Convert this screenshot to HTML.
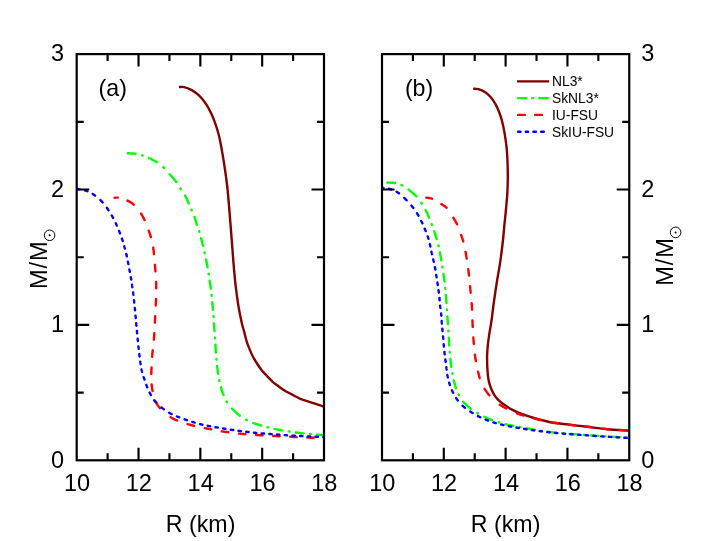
<!DOCTYPE html>
<html><head><meta charset="utf-8"><title>M-R</title>
<style>
html,body{margin:0;padding:0;background:#fff;}
body{width:706px;height:541px;overflow:hidden;}
svg{display:block;will-change:transform;}
text{font-family:"Liberation Sans",sans-serif;fill:#000;}
</style></head><body>
<svg width="706" height="541" viewBox="0 0 706 541">
<rect width="706" height="541" fill="#fff"/>
<defs>
<clipPath id="c1"><rect x="76.70" y="54.10" width="247.30" height="406.20"/></clipPath>
<clipPath id="c2"><rect x="382.00" y="54.10" width="247.25" height="406.20"/></clipPath>
</defs>
<g clip-path="url(#c1)"><path d="M178.96,87.10 C179.83,87.10 182.14,86.63 184.20,87.10 C186.26,87.57 188.93,88.60 191.30,89.90 C193.67,91.20 196.02,92.65 198.40,94.90 C200.78,97.15 203.46,100.32 205.60,103.40 C207.74,106.48 209.60,109.95 211.25,113.40 C212.90,116.85 214.19,120.30 215.50,124.10 C216.81,127.90 218.03,131.82 219.10,136.20 C220.17,140.58 220.94,145.02 221.90,150.40 C222.86,155.78 223.95,162.40 224.85,168.50 C225.75,174.60 226.59,180.60 227.30,187.00 C228.01,193.40 228.53,200.27 229.10,206.90 C229.67,213.53 230.22,220.70 230.70,226.80 C231.18,232.90 231.55,237.63 232.00,243.50 C232.45,249.37 232.87,255.60 233.40,262.00 C233.93,268.40 234.73,277.23 235.20,281.90 C235.67,286.57 235.85,287.23 236.20,290.00 C236.55,292.77 236.90,295.67 237.30,298.50 C237.70,301.33 238.12,304.17 238.60,307.00 C239.08,309.83 239.63,312.67 240.20,315.50 C240.77,318.33 241.38,321.45 242.00,324.00 C242.62,326.55 243.38,328.88 243.90,330.80 C244.42,332.72 244.62,333.67 245.10,335.50 C245.58,337.33 246.09,339.62 246.80,341.80 C247.51,343.98 248.37,346.20 249.35,348.60 C250.33,351.00 251.42,353.72 252.70,356.20 C253.97,358.68 255.43,361.08 257.00,363.50 C258.57,365.92 260.38,368.57 262.10,370.70 C263.82,372.83 265.53,374.45 267.30,376.30 C269.07,378.15 270.88,380.18 272.70,381.80 C274.52,383.42 276.37,384.65 278.20,386.00 C280.03,387.35 281.40,388.48 283.70,389.90 C286.00,391.32 289.23,393.02 292.00,394.50 C294.77,395.98 297.02,397.45 300.30,398.80 C303.58,400.15 307.88,401.33 311.70,402.60 C315.52,403.87 319.98,405.33 323.20,406.40 C326.42,407.47 329.70,408.57 331.00,409.00" fill="none" stroke="#800000" stroke-width="2.40" stroke-linecap="butt"/>
<path d="M127.80,153.27L127.81,153.27L128.94,153.32L130.22,153.38L131.57,153.45L132.93,153.54L134.21,153.64L135.35,153.76L135.60,153.79M142.00,155.38L142.05,155.40L142.13,155.42L142.21,155.45L142.29,155.47L142.37,155.50L142.45,155.52L142.52,155.55L142.60,155.57L142.68,155.60L142.70,155.60M149.10,158.11L149.14,158.13L150.33,158.70L151.59,159.33L152.89,160.00L154.19,160.69L155.45,161.39L156.62,162.08L156.90,162.25M163.30,167.21L163.33,167.23L163.40,167.30L163.47,167.37L163.55,167.44L163.62,167.51L163.69,167.58L163.76,167.65L163.84,167.72L163.91,167.79L163.98,167.86L164.00,167.89M169.62,174.29L169.70,174.39L170.74,175.55L171.84,176.79L172.97,178.06L174.07,179.33L175.12,180.57L176.07,181.72L176.36,182.09M180.38,188.49L180.40,188.52L180.45,188.60L180.50,188.68L180.55,188.75L180.60,188.83L180.65,188.91L180.70,188.98L180.76,189.06L180.81,189.13L180.84,189.19M185.12,195.59L185.14,195.61L185.76,196.84L186.39,198.17L187.01,199.53L187.62,200.89L188.20,202.20L188.73,203.39M191.42,209.79L191.42,209.80L191.45,209.88L191.49,209.95L191.52,210.02L191.55,210.10L191.58,210.18L191.61,210.25L191.65,210.32L191.68,210.40L191.71,210.47L191.72,210.49M194.48,216.89L194.48,216.91L194.85,218.03L195.23,219.24L195.61,220.50L195.99,221.76L196.35,222.99L196.71,224.15L196.87,224.69M199.11,231.09L199.11,231.10L199.14,231.20L199.17,231.30L199.20,231.40L199.23,231.51L199.26,231.61L199.30,231.72L199.31,231.79M201.08,238.19L201.12,238.32L201.46,239.61L201.78,240.87L202.10,242.10L202.40,243.30L202.71,244.49L203.00,245.68L203.08,245.99M204.58,252.39L204.59,252.43L204.62,252.57L204.65,252.70L204.68,252.83L204.71,252.97L204.73,253.09M206.05,259.49L206.05,259.49L206.28,260.69L206.52,261.91L206.75,263.13L206.98,264.36L207.22,265.61L207.45,266.87L207.53,267.29M208.66,273.69L208.67,273.70L208.69,273.83L208.71,273.96L208.73,274.10L208.76,274.23L208.78,274.37L208.78,274.39M209.76,280.79L209.77,280.88L209.93,282.01L210.09,283.15L210.25,284.31L210.41,285.50L210.56,286.73L210.72,288.00L210.80,288.59M211.55,294.99L211.56,295.07L211.57,295.18L211.59,295.29L211.60,295.40L211.61,295.51L211.62,295.61L211.63,295.69M212.30,302.09L212.30,302.10L212.39,303.12L212.49,304.28L212.59,305.54L212.70,306.88L212.81,308.29L212.93,309.73L212.94,309.89M213.44,316.29L213.45,316.42L213.46,316.60L213.47,316.77L213.49,316.93L213.49,316.99M213.95,323.39L213.96,323.47L214.04,324.69L214.13,325.89L214.21,327.07L214.29,328.27L214.37,329.45L214.46,330.59L214.50,331.19M214.95,337.59L214.95,337.61L214.96,337.74L214.97,337.87L214.97,338.00L214.98,338.13L214.99,338.27L214.99,338.29M215.38,344.69L215.38,344.69L215.46,346.01L215.54,347.31L215.62,348.58L215.70,349.80L215.78,350.98L215.87,352.12L215.89,352.49M216.42,358.89L216.43,358.95L216.44,359.07L216.45,359.20L216.46,359.32L216.48,359.45L216.49,359.57L216.49,359.59M217.11,365.99L217.12,366.06L217.25,367.23L217.39,368.41L217.55,369.60L217.71,370.80L217.87,372.01L218.03,373.21L218.11,373.79M219.20,380.19L219.20,380.21L219.23,380.36L219.27,380.50L219.30,380.65L219.33,380.80L219.35,380.89M220.97,387.29L220.98,387.32L221.37,388.68L221.76,390.01L222.17,391.31L222.58,392.55L223.00,393.72L223.40,394.81L223.51,395.09M226.49,401.49L226.53,401.56L226.60,401.67L226.67,401.78L226.75,401.90L226.82,402.01L226.89,402.12L226.94,402.19M232.05,408.59L232.06,408.60L233.30,409.90L234.57,411.17L235.85,412.38L237.13,413.51L238.42,414.58L239.74,415.60L239.77,415.63M246.17,419.78L246.17,419.78L246.32,419.86L246.47,419.94L246.61,420.02L246.76,420.10L246.87,420.16M253.27,423.03L253.42,423.08L254.52,423.47L255.65,423.85L256.80,424.23L257.98,424.60L259.20,424.96L260.45,425.34L261.07,425.52M267.47,427.25L267.49,427.25L267.70,427.30L267.90,427.35L268.11,427.40L268.17,427.42M274.57,428.88L274.75,428.91L275.85,429.14L276.94,429.37L278.04,429.59L279.16,429.80L280.31,430.02L281.47,430.23L282.37,430.39M288.77,431.43L288.88,431.45L289.11,431.49L289.35,431.52L289.47,431.54M295.87,432.47L295.89,432.47L297.13,432.64L298.34,432.80L299.53,432.94L300.69,433.08L301.83,433.21L302.95,433.33L303.67,433.40M310.07,434.02L310.21,434.04L310.39,434.05L310.56,434.07L310.73,434.08L310.77,434.09M317.17,434.63L317.23,434.63L318.69,434.74L320.09,434.84L321.41,434.94L322.63,435.03L323.74,435.12L324.76,435.20L324.97,435.22" fill="none" stroke="#00ff00" stroke-width="2.40" stroke-linecap="round"/>
<path d="M114.60,197.72L114.62,197.72L115.03,197.69L115.46,197.66L115.92,197.64L116.40,197.62L116.89,197.61L117.39,197.62L117.80,197.64M127.40,200.54L127.46,200.57L128.47,201.08L129.46,201.63L130.45,202.21L131.42,202.85L132.38,203.54L133.32,204.30L133.70,204.63M140.95,213.52L141.01,213.62L141.66,214.65L142.28,215.70L142.87,216.75L143.44,217.82L143.99,218.89L144.52,219.98L144.54,220.02M148.74,230.62L148.78,230.72L149.16,231.82L149.53,232.90L149.89,233.96L150.23,235.01L150.56,236.06L150.87,237.10L150.88,237.12M153.23,247.72L153.24,247.81L153.35,248.64L153.46,249.52L153.56,250.46L153.67,251.45L153.78,252.47L153.88,253.51L153.95,254.22M154.92,264.82L154.93,264.92L155.02,265.97L155.11,266.99L155.19,268.00L155.27,268.98L155.35,269.96L155.42,270.91L155.46,271.32M156.08,281.92L156.08,281.94L156.11,283.02L156.15,284.09L156.17,285.14L156.20,286.18L156.22,287.20L156.23,288.18L156.24,288.42M156.06,299.02L156.06,299.08L156.02,300.06L155.97,301.07L155.92,302.09L155.87,303.12L155.82,304.17L155.78,305.23L155.76,305.52M155.20,316.12L155.19,316.30L155.15,317.13L155.10,318.00L155.06,318.92L155.01,319.87L154.96,320.85L154.91,321.87L154.88,322.62M154.31,333.22L154.30,333.35L154.24,334.37L154.17,335.35L154.10,336.30L154.03,337.22L153.95,338.14L153.87,339.03L153.81,339.72M152.68,350.32L152.66,350.45L152.56,351.49L152.47,352.55L152.38,353.61L152.30,354.69L152.22,355.79L152.14,356.82M151.52,367.42L151.51,367.56L151.47,368.57L151.43,369.55L151.40,370.50L151.37,371.43L151.35,372.34L151.33,373.23L151.32,373.92M151.59,384.52L151.59,384.54L151.71,385.77L151.86,386.89L152.02,387.94L152.20,388.96L152.40,389.97L152.62,391.01L152.62,391.02M155.83,401.62L155.86,401.70L156.36,402.79L156.90,403.86L157.48,404.90L158.12,405.90L158.82,406.85L159.62,407.78L159.94,408.12M170.53,417.24L170.59,417.27L171.47,417.80L172.38,418.30L173.36,418.81L174.43,419.32L175.60,419.84L176.92,420.39L177.03,420.44M187.63,424.09L187.64,424.10L188.72,424.41L189.79,424.71L190.84,424.99L191.89,425.26L192.94,425.53L194.00,425.80L194.13,425.83M204.73,428.14L204.76,428.14L205.84,428.35L206.92,428.54L207.99,428.74L209.05,428.93L210.09,429.13L211.10,429.32L211.23,429.35M221.83,431.32L221.92,431.33L222.79,431.47L223.70,431.60L224.63,431.74L225.59,431.88L226.57,432.03L227.56,432.17L228.33,432.28M238.93,433.60L239.08,433.62L240.01,433.71L240.93,433.80L241.86,433.88L242.78,433.96L243.71,434.04L244.64,434.12L245.43,434.18M256.03,434.94L256.19,434.95L257.11,435.01L258.03,435.07L258.95,435.13L259.87,435.19L260.79,435.25L261.71,435.31L262.53,435.36M273.13,435.96L273.21,435.96L274.13,436.01L275.05,436.06L275.98,436.11L276.90,436.16L277.82,436.21L278.75,436.25L279.63,436.30M290.23,436.80L290.32,436.80L291.24,436.85L292.17,436.89L293.10,436.93L294.04,436.97L294.99,437.02L295.95,437.06L296.73,437.09M307.33,437.55L307.36,437.55L308.44,437.60L309.50,437.64L310.51,437.68L311.48,437.72L312.43,437.76L313.35,437.80L313.83,437.82M324.43,438.24L324.54,438.24L325.40,438.28L326.20,438.32L326.94,438.35L327.62,438.39L328.23,438.41L328.79,438.44L328.80,438.44" fill="none" stroke="#ff0000" stroke-width="2.40" stroke-linecap="round"/>
<path d="M71.20,188.46L71.22,188.47L71.30,188.47L71.37,188.47L71.45,188.48L71.53,188.48L71.60,188.48L71.68,188.49L71.76,188.49L71.84,188.49L71.93,188.50L71.99,188.50M77.29,188.98L77.30,188.98L77.61,189.03L77.93,189.07L78.25,189.11L78.57,189.16L78.90,189.20L79.24,189.25L79.58,189.30L79.69,189.32M84.99,190.41L85.07,190.43L85.39,190.53L85.70,190.64L86.02,190.74L86.33,190.85L86.64,190.96L86.94,191.08L87.25,191.20L87.39,191.26M92.69,193.98L92.72,193.99L93.11,194.24L93.50,194.50L93.89,194.77L94.29,195.04L94.69,195.33L95.09,195.62M100.39,200.11L100.41,200.13L100.77,200.48L101.13,200.83L101.47,201.17L101.81,201.52L102.14,201.88L102.47,202.24L102.70,202.49M106.86,207.79L106.89,207.83L107.16,208.21L107.44,208.59L107.71,208.97L107.97,209.36L108.23,209.75L108.49,210.14L108.53,210.19M111.77,215.49L111.81,215.56L112.03,215.96L112.26,216.35L112.48,216.74L112.69,217.13L112.91,217.53L113.11,217.89M115.77,223.19L115.79,223.22L115.97,223.61L116.15,224.00L116.34,224.39L116.52,224.78L116.69,225.18L116.87,225.57L116.88,225.59M119.10,230.89L119.12,230.93L119.27,231.32L119.42,231.71L119.58,232.09L119.73,232.48L119.88,232.87L120.03,233.26L120.04,233.29M121.93,238.59L121.94,238.62L122.07,239.01L122.20,239.41L122.33,239.80L122.46,240.19L122.58,240.58L122.70,240.96L122.71,240.99M124.24,246.29L124.25,246.33L124.34,246.64L124.43,246.96L124.51,247.28L124.60,247.60L124.69,247.93L124.78,248.25L124.86,248.58L124.90,248.69M126.28,253.99L126.29,254.03L126.38,254.41L126.48,254.79L126.57,255.18L126.66,255.58L126.75,255.98L126.84,256.39M127.93,261.69L127.95,261.79L128.02,262.14L128.09,262.49L128.16,262.84L128.22,263.20L128.29,263.55L128.36,263.91L128.39,264.09M129.38,269.39L129.39,269.48L129.45,269.81L129.51,270.13L129.57,270.44L129.63,270.76L129.69,271.06L129.74,271.37L129.80,271.67L129.82,271.79M130.78,277.09L130.80,277.21L130.85,277.49L130.90,277.77L130.95,278.04L130.99,278.32L131.04,278.59L131.09,278.87L131.14,279.15L131.18,279.43L131.19,279.49M132.03,284.79L132.03,284.83L132.08,285.13L132.12,285.43L132.17,285.73L132.21,286.03L132.26,286.33L132.30,286.64L132.34,286.94L132.38,287.19M133.10,292.49L133.11,292.58L133.15,292.89L133.19,293.19L133.22,293.49L133.26,293.80L133.30,294.10L133.34,294.40L133.37,294.71L133.40,294.89M133.99,300.19L133.99,300.20L134.02,300.50L134.05,300.81L134.08,301.11L134.11,301.42L134.14,301.72L134.18,302.02L134.21,302.33L134.23,302.59M134.77,307.89L134.78,307.95L134.81,308.24L134.84,308.53L134.86,308.82L134.89,309.10L134.92,309.39L134.95,309.68L134.98,309.97L135.01,310.25L135.01,310.29M135.52,315.59L135.52,315.59L135.56,316.00L135.60,316.41L135.64,316.82L135.67,317.23L135.71,317.63L135.75,317.99M136.20,323.29L136.21,323.40L136.25,323.77L136.28,324.15L136.31,324.53L136.34,324.92L136.38,325.30L136.41,325.69L136.41,325.69M136.90,330.99L136.90,331.00L136.93,331.28L136.95,331.57L136.98,331.85L137.01,332.14L137.03,332.42L137.06,332.71L137.09,333.00L137.12,333.29L137.13,333.39M137.65,338.69L137.66,338.77L137.69,339.06L137.71,339.34L137.74,339.63L137.77,339.91L137.80,340.20L137.83,340.48L137.86,340.77L137.89,341.05L137.89,341.09M138.44,346.39L138.45,346.47L138.48,346.76L138.51,347.04L138.54,347.33L138.57,347.61L138.60,347.90L138.63,348.18L138.66,348.47L138.69,348.75L138.70,348.79M139.29,354.09L139.30,354.14L139.33,354.42L139.36,354.70L139.40,354.98L139.43,355.26L139.46,355.55L139.49,355.83L139.53,356.11L139.56,356.39L139.57,356.49M140.28,361.79L140.30,361.90L140.34,362.19L140.39,362.47L140.43,362.76L140.48,363.05L140.53,363.35L140.57,363.64L140.62,363.94L140.66,364.19M141.58,369.49L141.61,369.62L141.66,369.90L141.72,370.19L141.77,370.47L141.83,370.74L141.89,371.02L141.94,371.29L142.00,371.55L142.06,371.82L142.07,371.89M143.64,377.19L143.64,377.19L143.76,377.52L143.89,377.84L144.02,378.17L144.15,378.50L144.28,378.83L144.41,379.16L144.54,379.50L144.57,379.59M146.36,384.89L146.37,384.92L146.51,385.33L146.65,385.73L146.79,386.14L146.94,386.54L147.08,386.94L147.21,387.29M149.63,392.59L149.63,392.59L149.82,392.94L150.00,393.29L150.19,393.64L150.38,393.98L150.57,394.32L150.76,394.67L150.95,394.99M154.22,400.29L154.25,400.34L154.55,400.73L154.86,401.13L155.19,401.52L155.53,401.92L155.89,402.32L156.23,402.69M161.51,407.47L161.53,407.49L161.92,407.80L162.31,408.10L162.70,408.40L163.09,408.70L163.49,408.99L163.88,409.29L163.91,409.31M169.21,412.80L169.27,412.83L169.61,413.03L169.94,413.22L170.28,413.41L170.62,413.59L170.97,413.78L171.32,413.96L171.61,414.11M176.91,416.45L177.01,416.49L177.39,416.64L177.78,416.79L178.16,416.94L178.54,417.09L178.93,417.23L179.31,417.38L179.31,417.38M184.61,419.35L184.67,419.37L185.04,419.50L185.41,419.63L185.78,419.75L186.15,419.88L186.52,420.01L186.89,420.13L187.01,420.17M192.31,421.88L192.35,421.89L192.72,422.01L193.10,422.13L193.47,422.24L193.85,422.36L194.22,422.47L194.60,422.59L194.71,422.62M200.01,424.13L200.10,424.15L200.48,424.24L200.85,424.34L201.22,424.43L201.60,424.52L201.98,424.61L202.36,424.70L202.41,424.71M207.71,425.79L207.72,425.79L208.09,425.86L208.45,425.93L208.82,425.99L209.18,426.06L209.53,426.12L209.88,426.19L210.11,426.23M215.41,427.20L215.42,427.20L215.71,427.25L216.01,427.30L216.33,427.35L216.68,427.41L217.05,427.47L217.45,427.53L217.81,427.59M223.11,428.45L223.24,428.47L223.47,428.51L223.70,428.55L223.93,428.59L224.16,428.62L224.40,428.66L224.63,428.70L224.87,428.74L225.11,428.78L225.35,428.82L225.51,428.84M230.81,429.69L230.85,429.69L231.10,429.73L231.36,429.77L231.61,429.81L231.86,429.85L232.12,429.89L232.37,429.93L232.62,429.96L232.87,430.00L233.12,430.04L233.21,430.05M238.51,430.81L238.62,430.82L238.85,430.85L239.08,430.88L239.31,430.91L239.54,430.94L239.78,430.97L240.01,431.01L240.24,431.04L240.47,431.07L240.70,431.10L240.91,431.12M246.21,431.78L246.26,431.79L246.49,431.81L246.72,431.84L246.95,431.87L247.18,431.90L247.41,431.92L247.64,431.95L247.88,431.98L248.11,432.00L248.34,432.03L248.57,432.06L248.61,432.06M253.91,432.64L254.12,432.66L254.35,432.68L254.58,432.71L254.81,432.73L255.04,432.75L255.27,432.78L255.50,432.80L255.73,432.82L255.96,432.85L256.19,432.87L256.31,432.88M261.61,433.36L261.71,433.37L261.94,433.38L262.17,433.40L262.40,433.42L262.63,433.44L262.86,433.46L263.09,433.48L263.32,433.50L263.55,433.52L263.78,433.53L264.01,433.55L264.01,433.55M269.31,433.96L269.53,433.97L269.76,433.99L269.99,434.01L270.22,434.02L270.45,434.04L270.68,434.06L270.91,434.08L271.14,434.09L271.37,434.11L271.60,434.13L271.71,434.14M277.01,434.54L277.13,434.54L277.36,434.56L277.59,434.58L277.82,434.60L278.06,434.61L278.29,434.63L278.52,434.65L278.75,434.67L278.98,434.68L279.21,434.70L279.41,434.72M284.71,435.10L284.76,435.10L285.00,435.12L285.23,435.13L285.46,435.15L285.69,435.17L285.92,435.18L286.15,435.20L286.38,435.21L286.62,435.23L286.85,435.25L287.08,435.26L287.11,435.26M292.41,435.60L292.63,435.61L292.86,435.63L293.10,435.64L293.33,435.65L293.57,435.67L293.80,435.68L294.04,435.69L294.28,435.71L294.51,435.72L294.75,435.73L294.81,435.74M300.11,436.00L300.33,436.01L300.57,436.03L300.81,436.04L301.05,436.05L301.30,436.06L301.54,436.07L301.78,436.08L302.02,436.09L302.26,436.10L302.50,436.12L302.51,436.12M307.81,436.36L308.01,436.37L308.23,436.38L308.44,436.39L308.66,436.39L308.87,436.40L309.08,436.41L309.29,436.42L309.50,436.43L309.70,436.44L309.91,436.45L310.11,436.46L310.21,436.47M315.51,436.72L315.65,436.73L315.99,436.74L316.33,436.76L316.66,436.78L316.99,436.79L317.31,436.81L317.63,436.82L317.91,436.84M323.21,437.09L323.26,437.09L323.62,437.11L323.97,437.12L324.31,437.14L324.65,437.15L324.98,437.17L325.29,437.18L325.60,437.20L325.61,437.20M329.71,437.39L329.74,437.39L329.78,437.39L329.83,437.39L329.87,437.39L329.92,437.40L329.96,437.40L330.00,437.40L330.00,437.40" fill="none" stroke="#0000ff" stroke-width="2.40" stroke-linecap="round"/></g>
<g clip-path="url(#c2)"><path d="M473.20,88.80 C474.08,88.87 476.55,88.65 478.50,89.20 C480.45,89.75 482.88,90.79 484.90,92.10 C486.92,93.41 488.83,95.03 490.60,97.05 C492.37,99.07 494.08,101.71 495.50,104.20 C496.92,106.69 498.03,109.28 499.10,112.00 C500.17,114.72 501.07,117.42 501.90,120.50 C502.73,123.58 503.43,126.94 504.10,130.50 C504.77,134.06 505.43,138.43 505.90,141.85 C506.37,145.27 506.62,147.28 506.90,151.00 C507.18,154.72 507.45,159.62 507.60,164.20 C507.75,168.77 507.84,173.70 507.80,178.45 C507.76,183.20 507.62,187.96 507.35,192.70 C507.08,197.44 506.57,202.63 506.20,206.90 C505.82,211.17 505.43,214.98 505.10,218.30 C504.77,221.62 504.55,223.18 504.20,226.80 C503.85,230.42 503.65,234.25 503.00,240.00 C502.35,245.75 501.34,254.18 500.30,261.30 C499.26,268.42 497.87,275.58 496.75,282.70 C495.63,289.82 494.49,297.55 493.60,304.00 C492.71,310.45 492.08,316.61 491.40,321.40 C490.72,326.19 490.07,328.97 489.50,332.75 C488.93,336.53 488.35,340.31 487.95,344.10 C487.55,347.89 487.21,351.70 487.10,355.50 C486.99,359.30 487.17,363.65 487.30,366.90 C487.43,370.15 487.62,372.47 487.90,375.00 C488.18,377.53 488.41,379.73 489.00,382.10 C489.59,384.47 490.50,386.95 491.45,389.20 C492.40,391.45 493.44,393.70 494.70,395.60 C495.96,397.50 497.22,398.93 499.00,400.60 C500.78,402.27 503.15,404.06 505.40,405.60 C507.65,407.14 509.90,408.50 512.50,409.85 C515.10,411.20 517.43,412.34 521.00,413.70 C524.57,415.06 528.98,416.58 533.90,418.00 C538.82,419.42 544.67,421.10 550.50,422.20 C556.33,423.30 562.76,423.83 568.90,424.60 C575.04,425.37 580.90,426.03 587.35,426.80 C593.80,427.57 600.84,428.58 607.60,429.20 C614.36,429.82 623.17,430.20 627.90,430.50 C632.63,430.80 634.65,430.92 636.00,431.00" fill="none" stroke="#800000" stroke-width="2.40" stroke-linecap="butt"/>
<path d="M387.30,182.57L387.34,182.57L388.47,182.61L389.72,182.66L391.03,182.72L392.34,182.79L393.60,182.88L394.74,182.99L395.10,183.03M401.50,185.00L401.53,185.01L401.60,185.05L401.68,185.08L401.75,185.12L401.83,185.16L401.90,185.20L401.98,185.23L402.05,185.27L402.13,185.31L402.20,185.35M408.60,189.60L408.69,189.67L409.99,190.72L411.37,191.86L412.76,193.05L414.10,194.24L415.34,195.40L416.39,196.45M421.30,202.85L421.32,202.87L421.37,202.95L421.43,203.04L421.49,203.12L421.55,203.21L421.60,203.29L421.66,203.38L421.72,203.46L421.77,203.55M425.58,209.95L425.60,209.99L426.22,211.24L426.83,212.52L427.41,213.82L427.97,215.12L428.52,216.41L429.05,217.65L429.09,217.75M431.65,224.15L431.65,224.15L431.69,224.24L431.72,224.34L431.76,224.43L431.79,224.52L431.83,224.61L431.86,224.71L431.90,224.80L431.92,224.85M434.24,231.25L434.25,231.27L434.70,232.60L435.13,233.89L435.53,235.16L435.92,236.41L436.30,237.64L436.65,238.85L436.71,239.05M438.45,245.45L438.46,245.50L438.49,245.59L438.51,245.69L438.53,245.79L438.55,245.89L438.58,246.00L438.60,246.10L438.61,246.15M439.89,252.55L439.90,252.62L440.13,253.85L440.36,255.07L440.58,256.27L440.79,257.44L441.00,258.62L441.20,259.79L441.30,260.35M442.36,266.75L442.38,266.86L442.40,267.00L442.42,267.14L442.44,267.28L442.47,267.41L442.47,267.45M443.45,273.85L443.45,273.85L443.64,275.15L443.83,276.44L444.00,277.71L444.17,278.95L444.34,280.18L444.50,281.40L444.53,281.65M445.29,288.05L445.30,288.17L445.32,288.30L445.33,288.44L445.35,288.57L445.36,288.70L445.36,288.75M445.92,295.15L445.92,295.19L446.02,296.52L446.11,297.84L446.21,299.17L446.31,300.49L446.40,301.76L446.49,302.95M446.93,309.35L446.94,309.45L446.95,309.61L446.96,309.76L446.97,309.92L446.98,310.05M447.40,316.45L447.41,316.59L447.49,317.77L447.57,318.97L447.65,320.17L447.73,321.36L447.80,322.55L447.88,323.71L447.91,324.25M448.32,330.65L448.32,330.68L448.33,330.85L448.34,331.03L448.35,331.21L448.36,331.35M448.76,337.75L448.76,337.77L448.84,339.01L448.92,340.26L449.01,341.51L449.09,342.77L449.17,344.03L449.25,345.29L449.27,345.55M449.72,351.95L449.73,352.05L449.74,352.22L449.76,352.39L449.77,352.57L449.78,352.65M450.37,359.05L450.38,359.13L450.52,360.44L450.66,361.73L450.81,363.00L450.96,364.24L451.11,365.44L451.26,366.61L451.29,366.85M452.32,373.25L452.32,373.26L452.34,373.38L452.36,373.50L452.39,373.62L452.41,373.75L452.43,373.87L452.44,373.95M453.74,380.35L453.75,380.39L453.98,381.26L454.26,382.33L454.60,383.58L454.96,384.93L455.36,386.32L455.79,387.70L455.93,388.15M458.64,394.55L458.65,394.57L458.69,394.65L458.73,394.73L458.77,394.80L458.81,394.88L458.85,394.96L458.90,395.04L458.94,395.12L458.98,395.20L459.01,395.25M463.09,401.65L463.11,401.66L464.13,402.78L465.31,403.97L466.62,405.19L467.99,406.41L469.36,407.57L470.67,408.65L470.78,408.73M477.18,413.00L477.26,413.05L477.35,413.10L477.45,413.16L477.54,413.21L477.63,413.26L477.73,413.32L477.82,413.37L477.88,413.40M484.28,416.80L484.31,416.82L485.53,417.39L486.78,417.95L488.07,418.50L489.41,419.04L490.78,419.57L492.08,420.05M498.48,422.22L498.48,422.22L498.61,422.26L498.74,422.30L498.86,422.34L498.99,422.37L499.12,422.41L499.18,422.43M505.58,424.20L505.63,424.21L507.03,424.56L508.30,424.85L509.46,425.10L510.59,425.33L511.75,425.54L513.02,425.78L513.38,425.84M519.78,427.04L519.94,427.07L520.11,427.10L520.29,427.13L520.46,427.17L520.48,427.17M526.88,428.33L527.05,428.36L528.22,428.56L529.40,428.77L530.59,428.97L531.81,429.18L533.04,429.40L534.30,429.62L534.68,429.68M541.08,430.76L541.24,430.78L541.46,430.82L541.68,430.85L541.78,430.87M548.18,431.78L548.37,431.80L549.50,431.94L550.64,432.07L551.78,432.20L552.93,432.33L554.09,432.45L555.25,432.57L555.98,432.64M562.38,433.24L562.47,433.25L562.70,433.27L562.94,433.29L563.08,433.31M569.48,433.86L569.63,433.87L570.79,433.96L571.94,434.05L573.09,434.14L574.25,434.22L575.40,434.30L576.55,434.39L577.28,434.44M583.68,434.90L583.70,434.90L583.93,434.92L584.16,434.93L584.38,434.95M590.78,435.42L590.92,435.43L592.00,435.51L593.10,435.59L594.21,435.67L595.34,435.75L596.51,435.83L597.70,435.91L598.58,435.97M604.98,436.38L605.09,436.39L605.41,436.40L605.68,436.42M612.08,436.80L612.37,436.82L613.46,436.88L614.56,436.94L615.64,437.01L616.72,437.07L617.79,437.13L618.85,437.19L619.88,437.25M626.28,437.61L626.51,437.62L626.76,437.64L626.98,437.65M633.38,437.99L633.39,437.99L633.65,438.00L633.89,438.01L634.12,438.02L634.33,438.03L634.53,438.04L634.72,438.04L634.80,438.05" fill="none" stroke="#00ff00" stroke-width="2.40" stroke-linecap="round"/>
<path d="M426.30,197.61L426.34,197.62L427.13,197.71L428.01,197.82L428.95,197.96L429.93,198.14L430.92,198.36L431.88,198.64L432.10,198.71M441.40,204.10L441.47,204.14L442.35,204.70L443.20,205.22L444.00,205.74L444.78,206.27L445.55,206.84L446.30,207.48L446.58,207.74M453.30,217.81L453.33,217.86L453.96,218.91L454.58,219.93L455.18,220.93L455.77,221.93L456.33,222.92L456.88,223.93L457.08,224.31M461.12,234.91L461.16,235.01L461.52,236.06L461.87,237.04L462.19,237.99L462.51,238.96L462.83,240.00L463.16,241.17L463.22,241.41M465.55,252.01L465.57,252.10L465.74,253.00L465.90,253.92L466.07,254.85L466.23,255.79L466.40,256.75L466.56,257.75L466.69,258.51M468.24,269.11L468.25,269.22L468.40,270.32L468.54,271.41L468.67,272.49L468.80,273.55L468.93,274.62L469.04,275.61M470.07,286.21L470.09,286.38L470.18,287.45L470.28,288.52L470.38,289.59L470.48,290.65L470.58,291.72L470.68,292.71M471.64,303.31L471.65,303.47L471.74,304.54L471.81,305.61L471.89,306.69L471.95,307.76L472.01,308.85L472.06,309.81M472.44,320.41L472.45,320.63L472.49,321.69L472.53,322.74L472.58,323.79L472.63,324.82L472.68,325.83L472.73,326.83L472.73,326.91M473.32,337.51L473.33,337.69L473.41,338.68L473.48,339.70L473.57,340.72L473.65,341.76L473.73,342.81L473.82,343.88L473.83,344.01M474.89,354.61L474.89,354.62L475.03,355.66L475.17,356.70L475.32,357.72L475.49,358.75L475.66,359.79L475.84,360.84L475.89,361.11M478.10,371.71L478.11,371.77L478.37,372.92L478.63,374.01L478.88,375.05L479.13,376.05L479.37,376.99L479.61,377.90L479.70,378.21M484.55,388.81L484.56,388.83L485.29,389.95L486.04,391.06L486.81,392.14L487.61,393.19L488.43,394.23L489.29,395.23L489.36,395.31M499.86,404.71L499.93,404.76L500.89,405.41L501.85,406.02L502.84,406.62L503.87,407.21L504.98,407.81L506.20,408.45L506.36,408.53M516.96,413.37L517.01,413.39L518.05,413.79L519.06,414.16L520.09,414.52L521.16,414.87L522.30,415.23L523.46,415.58M534.06,418.34L534.07,418.34L534.95,418.56L535.87,418.79L536.81,419.03L537.79,419.28L538.79,419.54L539.82,419.80L540.56,419.99M551.16,422.32L551.16,422.32L552.04,422.47L552.94,422.61L553.84,422.75L554.74,422.88L555.66,423.01L556.57,423.13L557.50,423.25L557.66,423.27M568.26,424.52L568.44,424.54L569.36,424.66L570.28,424.77L571.19,424.88L572.10,424.99L573.01,425.10L573.92,425.21L574.76,425.31M585.36,426.56L585.43,426.57L586.39,426.69L587.35,426.80L588.32,426.92L589.30,427.04L590.29,427.16L591.28,427.28L591.86,427.36M602.46,428.67L602.49,428.67L603.52,428.79L604.54,428.90L605.56,429.00L606.58,429.10L607.60,429.20L608.63,429.29L608.96,429.32M619.56,430.03L619.59,430.03L620.66,430.09L621.70,430.15L622.71,430.20L623.68,430.26L624.62,430.31L625.52,430.36L626.06,430.39M635.58,430.97L635.63,430.98L635.68,430.98L635.74,430.98L635.79,430.99L635.85,430.99L635.88,430.99" fill="none" stroke="#ff0000" stroke-width="2.40" stroke-linecap="round"/>
<path d="M375.88,187.35L375.94,187.35L376.02,187.36L376.09,187.36L376.17,187.36L376.19,187.37M381.17,187.70L381.20,187.70L381.60,187.74L382.00,187.79L382.40,187.84L382.80,187.88L383.21,187.93L383.57,187.97M388.87,188.76L388.96,188.78L389.28,188.85L389.59,188.93L389.90,189.01L390.20,189.09L390.50,189.17L390.80,189.26L391.08,189.35L391.27,189.41M396.57,191.73L396.61,191.75L396.97,191.97L397.34,192.20L397.71,192.44L398.08,192.69L398.46,192.96L398.85,193.24L398.97,193.33M404.27,197.92L404.29,197.94L404.67,198.30L405.05,198.66L405.42,199.02L405.78,199.38L406.14,199.74L406.50,200.10L406.66,200.27M411.38,205.57L411.45,205.65L411.76,206.03L412.07,206.41L412.38,206.80L412.68,207.18L412.97,207.56L413.26,207.94L413.29,207.97M416.99,213.27L417.03,213.33L417.28,213.72L417.52,214.11L417.76,214.50L418.00,214.89L418.23,215.28L418.46,215.67M421.25,220.97L421.26,221.00L421.46,221.40L421.66,221.80L421.85,222.20L422.05,222.60L422.24,223.01L422.41,223.37M424.75,228.67L424.76,228.68L424.93,229.09L425.09,229.49L425.26,229.90L425.42,230.30L425.58,230.70L425.72,231.07M427.68,236.37L427.71,236.46L427.84,236.84L427.96,237.23L428.09,237.62L428.21,238.01L428.33,238.40L428.44,238.77M429.82,244.07L429.84,244.13L429.93,244.52L430.02,244.91L430.12,245.31L430.21,245.70L430.30,246.10L430.38,246.47M431.48,251.77L431.50,251.84L431.57,252.16L431.63,252.50L431.71,252.84L431.78,253.20L431.86,253.56L431.94,253.94L431.99,254.17M433.23,259.47L433.23,259.47L433.31,259.81L433.39,260.14L433.46,260.47L433.54,260.81L433.62,261.15L433.70,261.49L433.78,261.82L433.79,261.87M434.93,267.17L434.96,267.32L435.02,267.64L435.08,267.96L435.14,268.28L435.20,268.60L435.26,268.92L435.32,269.24L435.38,269.56L435.38,269.57M436.25,274.87L436.27,275.00L436.32,275.32L436.36,275.64L436.41,275.96L436.46,276.28L436.51,276.60L436.56,276.92L436.61,277.24L436.61,277.27M437.43,282.57L437.44,282.68L437.49,283.00L437.54,283.32L437.59,283.64L437.64,283.96L437.69,284.28L437.74,284.60L437.79,284.92L437.79,284.97M438.55,290.27L438.57,290.36L438.61,290.68L438.65,291.00L438.69,291.32L438.73,291.64L438.77,291.96L438.81,292.28L438.85,292.60L438.86,292.67M439.41,297.97L439.41,297.98L439.44,298.32L439.47,298.66L439.50,299.00L439.53,299.34L439.56,299.67L439.59,300.01L439.62,300.34L439.62,300.37M440.13,305.67L440.14,305.77L440.19,306.23L440.25,306.65L440.30,307.04L440.35,307.41L440.39,307.76L440.44,308.07M441.10,313.37L441.11,313.45L441.14,313.72L441.16,314.00L441.18,314.28L441.21,314.57L441.23,314.87L441.26,315.16L441.28,315.47L441.30,315.77M441.70,321.07L441.70,321.07L441.72,321.42L441.75,321.76L441.78,322.10L441.80,322.44L441.83,322.78L441.85,323.12L441.88,323.46L441.88,323.47M442.32,328.77L442.32,328.78L442.35,329.09L442.38,329.41L442.41,329.72L442.44,330.04L442.46,330.35L442.49,330.67L442.52,330.99L442.54,331.17M443.02,336.47L443.03,336.61L443.06,336.94L443.09,337.27L443.12,337.61L443.15,337.94L443.18,338.28L443.22,338.62L443.24,338.87M443.69,344.17L443.70,344.23L443.73,344.59L443.76,344.95L443.79,345.31L443.83,345.67L443.86,346.03L443.89,346.39L443.90,346.57M444.41,351.87L444.42,351.99L444.46,352.34L444.50,352.70L444.54,353.06L444.58,353.42L444.62,353.78L444.66,354.15L444.68,354.27M445.33,359.57L445.33,359.58L445.38,359.95L445.43,360.33L445.48,360.70L445.53,361.06L445.58,361.43L445.62,361.79L445.65,361.97M446.35,367.27L446.35,367.32L446.41,367.73L446.45,368.13L446.50,368.51L446.54,368.88L446.59,369.24L446.63,369.58L446.64,369.67M447.36,374.97L447.37,375.04L447.43,375.36L447.50,375.70L447.57,376.04L447.64,376.38L447.71,376.73L447.78,377.08L447.85,377.37M449.17,382.67L449.19,382.72L449.29,383.07L449.39,383.41L449.50,383.76L449.61,384.10L449.71,384.44L449.83,384.78L449.92,385.07M451.98,390.37L452.00,390.40L452.14,390.71L452.28,391.03L452.43,391.34L452.58,391.65L452.72,391.96L452.88,392.27L453.03,392.58L453.12,392.77M456.14,398.07L456.17,398.12L456.43,398.51L456.69,398.89L456.95,399.28L457.21,399.65L457.48,400.03L457.75,400.40L457.80,400.47M462.58,405.72L462.61,405.74L462.95,406.05L463.28,406.36L463.63,406.66L463.97,406.96L464.32,407.26L464.67,407.55L464.98,407.81M470.28,411.59L470.35,411.64L470.66,411.83L470.96,412.02L471.27,412.22L471.58,412.41L471.88,412.60L472.19,412.79L472.50,412.97L472.68,413.09M477.98,416.11L478.09,416.17L478.41,416.33L478.74,416.50L479.06,416.67L479.39,416.83L479.73,417.00L480.06,417.16L480.38,417.31M485.68,419.64L485.73,419.66L486.11,419.81L486.50,419.96L486.88,420.12L487.26,420.26L487.65,420.41L488.03,420.56L488.08,420.58M493.38,422.41L493.40,422.42L493.77,422.53L494.13,422.64L494.49,422.75L494.85,422.86L495.22,422.96L495.58,423.06L495.78,423.12M501.08,424.50L501.10,424.50L501.50,424.60L501.91,424.69L502.32,424.79L502.74,424.89L503.16,424.99L503.48,425.06M508.78,426.18L508.85,426.19L509.14,426.25L509.43,426.31L509.71,426.37L510.00,426.42L510.29,426.48L510.57,426.53L510.85,426.59L511.13,426.64L511.18,426.65M516.48,427.57L516.53,427.58L516.93,427.64L517.32,427.70L517.71,427.76L518.10,427.82L518.48,427.88L518.86,427.93L518.88,427.94M524.18,428.83L524.23,428.84L524.51,428.90L524.78,428.97L525.07,429.03L525.39,429.10L525.77,429.18L526.22,429.26L526.58,429.32M531.88,430.09L531.91,430.09L532.12,430.12L532.34,430.15L532.56,430.18L532.78,430.21L533.00,430.24L533.23,430.27L533.45,430.31L533.68,430.34L533.91,430.37L534.15,430.40L534.28,430.42M539.58,431.12L539.60,431.12L539.86,431.15L540.11,431.19L540.37,431.22L540.63,431.25L540.88,431.28L541.14,431.32L541.39,431.35L541.65,431.38L541.90,431.41L541.98,431.42M547.28,432.05L547.49,432.08L547.72,432.10L547.95,432.13L548.18,432.16L548.41,432.18L548.64,432.21L548.87,432.23L549.10,432.26L549.33,432.28L549.56,432.31L549.68,432.32M554.98,432.87L555.10,432.88L555.33,432.90L555.56,432.92L555.79,432.95L556.02,432.97L556.25,432.99L556.48,433.01L556.71,433.04L556.94,433.06L557.18,433.08L557.38,433.10M562.68,433.58L562.71,433.58L562.94,433.60L563.17,433.62L563.40,433.64L563.64,433.66L563.87,433.68L564.10,433.70L564.33,433.72L564.56,433.74L564.79,433.76L565.02,433.78L565.08,433.79M570.38,434.20L570.56,434.21L570.79,434.23L571.02,434.24L571.25,434.26L571.48,434.28L571.71,434.29L571.94,434.31L572.17,434.32L572.40,434.34L572.63,434.36L572.78,434.37M578.08,434.72L578.17,434.73L578.40,434.74L578.63,434.76L578.86,434.77L579.09,434.79L579.32,434.80L579.55,434.82L579.78,434.83L580.01,434.85L580.24,434.86L580.47,434.88L580.48,434.88M585.78,435.25L585.95,435.26L586.17,435.28L586.39,435.29L586.61,435.31L586.83,435.32L587.05,435.34L587.26,435.36L587.48,435.37L587.70,435.39L587.91,435.40L588.13,435.42L588.18,435.42M593.48,435.81L593.54,435.82L593.76,435.83L593.99,435.85L594.21,435.87L594.43,435.88L594.66,435.90L594.89,435.91L595.11,435.93L595.34,435.95L595.57,435.96L595.81,435.98L595.88,435.98M601.18,436.34L601.28,436.35L601.55,436.37L601.82,436.38L602.10,436.40L602.38,436.42L602.66,436.44L602.95,436.45L603.24,436.47L603.54,436.49L603.58,436.49M608.88,436.81L609.15,436.83L609.50,436.85L609.85,436.87L610.21,436.89L610.57,436.91L610.93,436.93L611.28,436.95M616.58,437.26L616.72,437.27L617.08,437.29L617.44,437.31L617.79,437.33L618.15,437.35L618.50,437.37L618.85,437.39L618.98,437.40M624.28,437.70L624.35,437.70L624.63,437.72L624.92,437.73L625.20,437.75L625.47,437.76L625.74,437.78L626.00,437.79L626.26,437.81L626.51,437.82L626.68,437.83M631.98,438.12L632.01,438.12L632.48,438.14L632.91,438.16L633.29,438.18L633.65,438.20L633.97,438.21L634.26,438.22L634.38,438.23" fill="none" stroke="#0000ff" stroke-width="2.40" stroke-linecap="round"/></g>
<rect x="76.70" y="54.10" width="247.30" height="406.20" fill="none" stroke="#000" stroke-width="2.20"/>
<path d="M107.61,54.10v7.00 M107.61,460.30v-7.00 M138.53,54.10v12.50 M138.53,460.30v-12.50 M169.44,54.10v7.00 M169.44,460.30v-7.00 M200.35,54.10v12.50 M200.35,460.30v-12.50 M231.26,54.10v7.00 M231.26,460.30v-7.00 M262.18,54.10v12.50 M262.18,460.30v-12.50 M293.09,54.10v7.00 M293.09,460.30v-7.00 M76.70,392.60h7.00 M324.00,392.60h-7.00 M76.70,324.90h12.50 M324.00,324.90h-12.50 M76.70,257.20h7.00 M324.00,257.20h-7.00 M76.70,189.50h12.50 M324.00,189.50h-12.50 M76.70,121.80h7.00 M324.00,121.80h-7.00 " stroke="#000" stroke-width="2.15" fill="none"/>
<rect x="382.00" y="54.10" width="247.25" height="406.20" fill="none" stroke="#000" stroke-width="2.20"/>
<path d="M412.91,54.10v7.00 M412.91,460.30v-7.00 M443.81,54.10v12.50 M443.81,460.30v-12.50 M474.72,54.10v7.00 M474.72,460.30v-7.00 M505.62,54.10v12.50 M505.62,460.30v-12.50 M536.53,54.10v7.00 M536.53,460.30v-7.00 M567.44,54.10v12.50 M567.44,460.30v-12.50 M598.34,54.10v7.00 M598.34,460.30v-7.00 M382.00,392.60h7.00 M629.25,392.60h-7.00 M382.00,324.90h12.50 M629.25,324.90h-12.50 M382.00,257.20h7.00 M629.25,257.20h-7.00 M382.00,189.50h12.50 M629.25,189.50h-12.50 M382.00,121.80h7.00 M629.25,121.80h-7.00 " stroke="#000" stroke-width="2.15" fill="none"/>
<text x="77.00" y="491.00" font-size="23.50" text-anchor="middle">10</text>
<text x="138.83" y="491.00" font-size="23.50" text-anchor="middle">12</text>
<text x="200.65" y="491.00" font-size="23.50" text-anchor="middle">14</text>
<text x="262.48" y="491.00" font-size="23.50" text-anchor="middle">16</text>
<text x="324.30" y="491.00" font-size="23.50" text-anchor="middle">18</text>
<text x="382.30" y="491.00" font-size="23.50" text-anchor="middle">10</text>
<text x="444.12" y="491.00" font-size="23.50" text-anchor="middle">12</text>
<text x="505.95" y="491.00" font-size="23.50" text-anchor="middle">14</text>
<text x="567.77" y="491.00" font-size="23.50" text-anchor="middle">16</text>
<text x="629.60" y="491.00" font-size="23.50" text-anchor="middle">18</text>
<text x="64.00" y="467.50" font-size="23.50" text-anchor="end">0</text>
<text x="641.20" y="467.50" font-size="23.50" text-anchor="start">0</text>
<text x="64.00" y="332.10" font-size="23.50" text-anchor="end">1</text>
<text x="641.20" y="332.10" font-size="23.50" text-anchor="start">1</text>
<text x="64.00" y="196.70" font-size="23.50" text-anchor="end">2</text>
<text x="641.20" y="196.70" font-size="23.50" text-anchor="start">2</text>
<text x="64.00" y="61.30" font-size="23.50" text-anchor="end">3</text>
<text x="641.20" y="61.30" font-size="23.50" text-anchor="start">3</text>
<text x="200.60" y="532.00" font-size="23.20" text-anchor="middle">R (km)</text>
<text x="505.60" y="532.00" font-size="23.20" text-anchor="middle">R (km)</text>
<text transform="translate(47.20,288.90) rotate(-90)" font-size="23.50" letter-spacing="0.9">M/M</text><circle cx="49.60" cy="235.30" r="5.3" fill="none" stroke="#000" stroke-width="1"/><circle cx="49.60" cy="235.30" r="1.0" fill="#000"/>
<text transform="translate(673.20,285.70) rotate(-90)" font-size="23.50" letter-spacing="0.9">M/M</text><circle cx="675.60" cy="232.40" r="5.3" fill="none" stroke="#000" stroke-width="1"/><circle cx="675.60" cy="232.40" r="1.0" fill="#000"/>
<text x="98.60" y="96.40" font-size="23.20">(a)</text>
<text x="404.90" y="96.40" font-size="23.20">(b)</text>
<path d="M517.00,81.40H549.20" stroke="#800000" stroke-width="2.40" fill="none" stroke-linecap="butt"/>
<text x="552.00" y="86.40" font-size="13.80">NL3*</text>
<path d="M518.10,98.10H526.40M532.20,98.10H533.30M539.30,98.10H547.90" stroke="#00ff00" stroke-width="2.40" fill="none" stroke-linecap="round"/>
<text x="552.00" y="103.10" font-size="13.80">SkNL3*</text>
<path d="M518.10,114.90H524.80M535.10,114.90H541.90" stroke="#ff0000" stroke-width="2.40" fill="none" stroke-linecap="round"/>
<text x="552.00" y="119.90" font-size="13.80">IU-FSU</text>
<path d="M518.10,131.70H520.55M525.75,131.70H528.10M533.40,131.70H535.90M541.10,131.70H543.80" stroke="#0000ff" stroke-width="2.40" fill="none" stroke-linecap="round"/>
<text x="552.00" y="136.70" font-size="13.80">SkIU-FSU</text>
</svg></body></html>
